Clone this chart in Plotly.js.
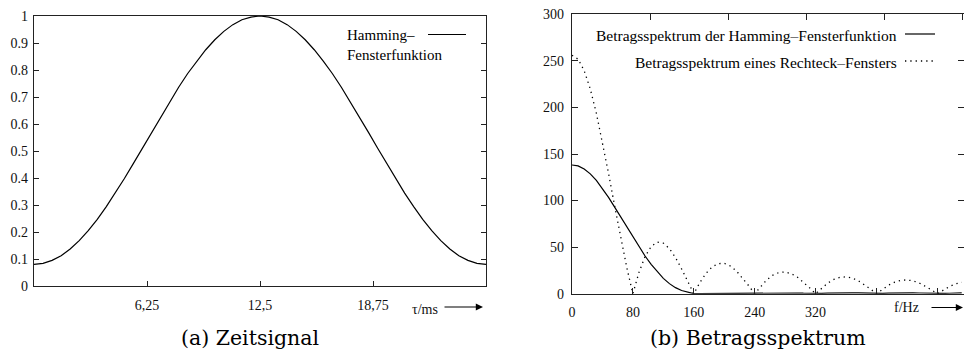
<!DOCTYPE html>
<html>
<head>
<meta charset="utf-8">
<script src="https://cdn.plot.ly/plotly-3.0.1.min.js"></script>
<style>html,body{margin:0;padding:0;background:#fff;}#chart{width:964px;height:354px;}</style>
</head>
<body>
<div id="chart"></div>
<script>
// ---- Data ----
const tauMs = [0,0.5,1,1.5,2,2.5,3,3.5,4,4.5,5,5.5,6,6.5,7,7.5,8,8.5,9,9.5,10,10.5,11,11.5,12,12.5,13,13.5,14,14.5,15,15.5,16,16.5,17,17.5,18,18.5,19,19.5,20,20.5,21,21.5,22,22.5,23,23.5,24,24.5,25];
const hammingWindow = [0.080,0.084,0.095,0.112,0.137,0.168,0.205,0.247,0.294,0.344,0.398,0.454,0.511,0.569,0.626,0.682,0.736,0.787,0.833,0.875,0.912,0.943,0.968,0.986,0.996,1.000,0.996,0.986,0.968,0.943,0.912,0.875,0.833,0.787,0.736,0.682,0.626,0.569,0.511,0.454,0.398,0.344,0.294,0.247,0.205,0.168,0.137,0.112,0.095,0.084,0.080];

const freqHz = [0,8,16,24,32,40,48,56,64,72,80,88,96,104,112,120,128,136,144,152,160,168,176,184,192,200,208,216,224,232,240,248,256,264,272,280,288,296,304,312,320,328,336,344,352,360,368,376,384,392,400,408,416,424,432,440,448,456,464,472,480,488,496,504,512];
const hammingSpectrum = [138.2,137.2,133.9,128.7,121.6,113.0,103.5,93.0,82.2,71.5,61.0,50.5,40.5,31.5,23.5,16.5,10.8,6.5,3.4,1.3,0,0.08,0.15,0.2,0.24,0.25,0.24,0.2,0.15,0.08,0,0.28,0.53,0.74,0.87,0.91,0.87,0.74,0.53,0.28,0,0.32,0.6,0.83,0.97,1.02,0.97,0.83,0.6,0.32,0,0.29,0.56,0.77,0.9,0.95,0.9,0.77,0.56,0.29,0,0.26,0.5,0.69,0.81];
const rectSpectrum = [256,251.8,239.5,219.8,193.8,163.0,129.2,94.2,59.9,28.0,0,22.9,39.9,50.7,55.4,54.3,48.4,38.8,26.6,13.3,0,12.0,21.8,28.7,32.3,32.6,29.8,24.4,17.1,8.7,0,8.1,15.0,20.0,22.8,23.3,21.5,17.8,12.6,6.5,0,6.1,11.4,15.3,17.6,18.1,16.9,14.0,10.0,5.1,0,4.9,9.2,12.4,14.4,14.8,13.8,11.6,8.3,4.3,0,4.1,7.7,10.5,12.1];

const leftXTickVals = [6.25,12.5,18.75];
const leftXTickText = ['6,25','12,5','18,75'];
const leftYTickVals = [0,0.1,0.2,0.3,0.4,0.5,0.6,0.7,0.8,0.9,1];
const leftYTickText = ['0','0.1','0.2','0.3','0.4','0.5','0.6','0.7','0.8','0.9','1'];
const rightXTickVals = [0,80,160,240,320,400,480];
const rightXTickText = ['0','80','160','240','320','',''];
const rightYTickVals = [0,50,100,150,200,250,300];

const legendLeft = 'Hamming–<br>Fensterfunktion';
const legendRight1 = 'Betragsspektrum der Hamming–Fensterfunktion';
const legendRight2 = 'Betragsspektrum eines Rechteck–Fensters';
const captionLeft = '(a) Zeitsignal';
const captionRight = '(b) Betragsspektrum';
const xLabelLeft = 'τ/ms';
const xLabelRight = 'f/Hz';

// ---- Layout helpers ----
const W = 964, H = 354;
const px = x => x / W;
const py = y => (H - y) / H;
const SERIF = "'Liberation Serif', 'Times New Roman', serif";
const CAPTION = "'DejaVu Serif', serif";
const tickFont = {family: SERIF, size: 14, color: '#111'};
const axisCol = '#222';

const traces = [
  {x: tauMs, y: hammingWindow, xaxis: 'x', yaxis: 'y', mode: 'lines',
   line: {color: '#000', width: 1.2}, hoverinfo: 'skip'},
  {x: freqHz, y: rectSpectrum, xaxis: 'x2', yaxis: 'y2', mode: 'lines',
   line: {color: '#000', width: 1.3, dash: '1.3px,4px'}, hoverinfo: 'skip'},
  {x: freqHz, y: hammingSpectrum, xaxis: 'x2', yaxis: 'y2', mode: 'lines',
   line: {color: '#000', width: 1.2}, hoverinfo: 'skip'},
  {x: [], y: [], xaxis: 'x3', yaxis: 'y2', mode: 'lines', hoverinfo: 'skip'}
];

const layout = {
  width: W, height: H,
  margin: {l: 0, r: 0, t: 0, b: 0},
  paper_bgcolor: '#fff', plot_bgcolor: '#fff',
  showlegend: false,
  font: {family: SERIF},
  xaxis: {domain: [px(34), px(486)], range: [0, 25], anchor: 'y',
    tickvals: leftXTickVals, ticktext: leftXTickText, ticks: 'inside', ticklen: 5,
    tickcolor: axisCol, tickwidth: 1, showline: true, linecolor: axisCol, linewidth: 1.2,
    mirror: true, showgrid: false, zeroline: false, tickfont: tickFont, ticklabelstandoff: 6},
  yaxis: {domain: [py(286), py(16)], range: [0, 1], anchor: 'x',
    tickvals: leftYTickVals, ticktext: leftYTickText, ticks: 'inside', ticklen: 5,
    tickcolor: axisCol, tickwidth: 1, showline: true, linecolor: axisCol, linewidth: 1.2,
    mirror: 'ticks', showgrid: false, zeroline: false, tickfont: tickFont, ticklabelstandoff: 2},
  xaxis2: {domain: [px(572), 1], range: [0, 515], anchor: 'y2',
    tickvals: rightXTickVals, ticktext: rightXTickText, ticks: 'inside', ticklen: 6,
    tickcolor: axisCol, tickwidth: 1, showline: true, linecolor: axisCol, linewidth: 1.2,
    mirror: false, showgrid: false, zeroline: false, tickfont: tickFont, ticklabelstandoff: 5},
  xaxis3: {overlaying: 'x2', side: 'top', anchor: 'y2', range: [0, 5.013], dtick: 1, tick0: 0,
    ticks: 'inside', ticklen: 6, tickcolor: axisCol, tickwidth: 1, showticklabels: false,
    showline: true, linecolor: axisCol, linewidth: 1.2, showgrid: false, zeroline: false},
  yaxis2: {domain: [py(293.7), py(14.3)], range: [0, 300], anchor: 'x2',
    tickvals: rightYTickVals, ticks: 'inside', ticklen: 6,
    tickcolor: axisCol, tickwidth: 1, showline: true, linecolor: axisCol, linewidth: 1.2,
    mirror: 'ticks', showgrid: false, zeroline: false, tickfont: tickFont, ticklabelstandoff: 4},
  shapes: [
    {type: 'line', xref: 'paper', yref: 'paper', x0: px(428), x1: px(466), y0: py(34.5), y1: py(34.5),
     line: {color: '#000', width: 1.2}},
    {type: 'line', xref: 'paper', yref: 'paper', x0: px(905), x1: px(935), y0: py(34), y1: py(34),
     line: {color: '#000', width: 1.2}},
    {type: 'line', xref: 'paper', yref: 'paper', x0: px(905), x1: px(935), y0: py(61), y1: py(61),
     line: {color: '#000', width: 1.3, dash: '1.3px,4px'}}
  ],
  annotations: [
    {xref: 'paper', yref: 'paper', x: px(345), y: py(45.5), xanchor: 'left', yanchor: 'middle',
     text: legendLeft, showarrow: false, align: 'left',
     font: {family: SERIF, size: 15, color: '#000'}},
    {xref: 'paper', yref: 'paper', x: px(899), y: py(36), xanchor: 'right', yanchor: 'middle',
     text: legendRight1, showarrow: false,
     font: {family: SERIF, size: 15.5, color: '#000'}},
    {xref: 'paper', yref: 'paper', x: px(899), y: py(62.5), xanchor: 'right', yanchor: 'middle',
     text: legendRight2, showarrow: false,
     font: {family: SERIF, size: 15.5, color: '#000'}},
    {xref: 'paper', yref: 'paper', x: px(425), y: py(309), xanchor: 'center', yanchor: 'middle',
     text: xLabelLeft, showarrow: false, font: tickFont},
    {xref: 'paper', yref: 'paper', x: px(483), y: py(307), ax: -40, ay: 0, text: '',
     showarrow: true, arrowhead: 2, arrowsize: 1.2, arrowwidth: 1.2, arrowcolor: '#000'},
    {xref: 'paper', yref: 'paper', x: px(906), y: py(307), xanchor: 'center', yanchor: 'middle',
     text: xLabelRight, showarrow: false, font: tickFont},
    {xref: 'paper', yref: 'paper', x: px(963), y: py(307.5), ax: -33, ay: 0, text: '',
     showarrow: true, arrowhead: 2, arrowsize: 1.2, arrowwidth: 1.2, arrowcolor: '#000'},
    {xref: 'paper', yref: 'paper', x: px(250), y: py(338), xanchor: 'center', yanchor: 'middle',
     text: captionLeft, showarrow: false,
     font: {family: CAPTION, size: 20.5, color: '#000'}},
    {xref: 'paper', yref: 'paper', x: px(758), y: py(338), xanchor: 'center', yanchor: 'middle',
     text: captionRight, showarrow: false,
     font: {family: CAPTION, size: 20.5, color: '#000'}}
  ]
};

Plotly.newPlot('chart', traces, layout, {staticPlot: true, displayModeBar: false});
</script>
</body>
</html>
